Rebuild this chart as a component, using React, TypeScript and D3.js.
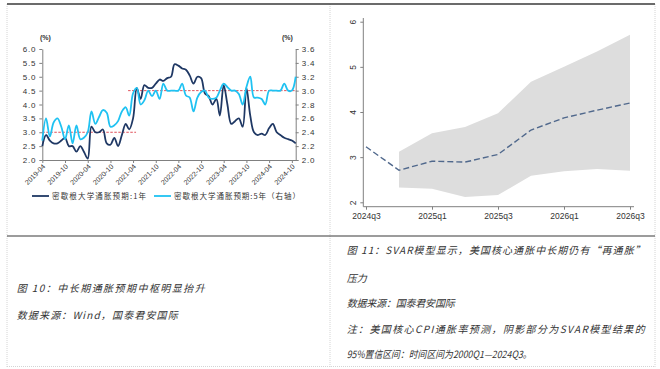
import * as d3 from "d3";
import React from "react";

// left panel: Michigan inflation expectations, monthly from 2019-04
const startMonth = new Date(2019, 3, 1);
const oneYear = [
  2.5, 2.9, 2.7, 2.6, 2.6, 2.7, 2.8, 2.5, 2.5, 2.3, 2.5, 2.3, 2.05, 3.2, 3.0, 3.0,
  3.1, 2.6, 2.55, 2.8, 2.5, 2.9, 3.3, 3.1, 3.5, 4.6, 4.2, 4.7, 4.6, 4.6, 4.75, 4.9,
  4.85, 4.95, 5.0, 5.45, 5.4, 5.3, 5.25, 5.05, 4.75, 5.0, 4.95, 4.4, 4.3, 4.0, 4.2,
  3.6, 4.7, 4.0, 3.3, 3.4, 3.5, 3.2, 4.6, 3.6, 3.0, 2.9, 2.95, 2.9, 3.15, 3.3, 3.0,
  2.9, 2.8, 2.75, 2.7, 2.6,
];
const fiveYear = [
  2.28, 2.6, 2.34, 2.54, 2.6, 2.48, 2.3, 2.5, 2.24, 2.5, 2.3, 2.32, 2.4, 2.7, 2.52,
  2.62, 2.72, 2.68, 2.48, 2.5, 2.56, 2.7, 2.76, 2.64, 2.96, 3.04, 2.8, 2.86, 3.0,
  2.92, 3.0, 2.88, 3.1, 3.0, 3.0, 3.0, 3.0, 3.1, 2.93, 2.9, 2.7, 2.9, 2.98, 3.0, 2.9,
  2.88, 2.9, 3.0, 3.1, 3.05, 3.0, 3.0, 2.95, 2.8, 3.05, 3.2, 2.9, 2.9, 2.88, 2.8, 3.0,
  3.0, 3.0, 3.0, 3.1, 3.0, 3.0, 3.2,
];
const monthTicks = [
  "2019-04", "2019-10", "2020-04", "2020-10", "2021-04", "2021-10",
  "2022-04", "2022-10", "2023-04", "2023-10", "2024-04", "2024-10",
];
const leftTicks = [2.0, 2.5, 3.0, 3.5, 4.0, 4.5, 5.0, 5.5, 6.0];
const rightTicks = [2.0, 2.2, 2.4, 2.6, 2.8, 3.0, 3.2, 3.4, 3.6];
const meanPreDates = ["2019-04-01", "2021-04-25"];
const meanPreValue = 3.0; // left axis
const meanPostDates = ["2021-02-20", "2024-11-01"];
const meanPostValue = 3.0; // right axis
const legendNames = ["密歇根大学通胀预期:1年", "密歇根大学通胀预期:5年（右轴）"];

// right panel: SVAR forecast of US core CPI
const quarters = ["2024q3", "2024q4", "2025q1", "2025q2", "2025q3", "2025q4", "2026q1", "2026q2", "2026q3"];
const quarterTicks = ["2024q3", "2025q1", "2025q3", "2026q1", "2026q3"];
const svarMean = [3.23, 2.71, 2.91, 2.89, 3.06, 3.6, 3.87, 4.04, 4.2];
const svarUpper = [null, 3.12, 3.53, 3.67, 3.97, 4.67, 5.0, 5.34, 5.71];
const svarLower = [null, 2.33, 2.3, 2.12, 2.16, 2.59, 2.69, 2.74, 2.7];
const svarTicks = [2, 3, 4, 5, 6];

const captionLeft = ["图 10：中长期通胀预期中枢明显抬升", "数据来源：Wind，国泰君安国际"];
const captionRight = [
  "图 11：SVAR模型显示，美国核心通胀中长期仍有“再通胀”",
  "压力",
  "数据来源：国泰君安国际",
  "注：美国核心CPI通胀率预测，阴影部分为SVAR模型结果的",
  "95%置信区间：时间区间为2000Q1—2024Q3。",
];

export default function App() {
  const width = 660;
  const height = 369;
  const svgRef = React.useRef<SVGSVGElement | null>(null);

  React.useEffect(() => {
    const svg = d3.select(svgRef.current);
    svg.selectAll("*").remove();
    const cjk = "'Noto Sans CJK SC', sans-serif";
    const sans = "'Liberation Sans', Arial, sans-serif";

    // frame
    const frame = svg.append("g");
    [7, 330, 655].forEach((x) =>
      frame.append("line").attr("x1", x).attr("x2", x).attr("y1", 4).attr("y2", 367)
        .attr("stroke", "#d4d4d4").attr("stroke-width", 1).attr("stroke-dasharray", "1,1"));
    frame.append("line").attr("x1", 7).attr("x2", 655).attr("y1", 366.5).attr("y2", 366.5)
      .attr("stroke", "#d4d4d4").attr("stroke-dasharray", "1,1");
    frame.append("line").attr("x1", 7).attr("x2", 655).attr("y1", 4).attr("y2", 4)
      .attr("stroke", "#3a3a3a").attr("stroke-width", 1.5);
    frame.append("line").attr("x1", 7).attr("x2", 655).attr("y1", 236).attr("y2", 236)
      .attr("stroke", "#3a3a3a").attr("stroke-width", 1.2);

    // ---------- left chart ----------
    const parseMonth = d3.timeParse("%Y-%m");
    const parseDay = d3.timeParse("%Y-%m-%d");
    const dates = oneYear.map((_, i) => d3.timeMonth.offset(startMonth, i));
    const x = d3.scaleTime().domain([startMonth, dates[dates.length - 1]]).range([42.3, 295.7]);
    const yL = d3.scaleLinear().domain([2, 6]).range([160, 49]);
    const yR = d3.scaleLinear().domain([2, 3.6]).range([160, 49]);

    const styleAxis = (g: any, size: number) => {
      g.select(".domain").attr("stroke", "#808080");
      g.selectAll(".tick line").attr("stroke", "#808080");
      g.selectAll(".tick text").attr("fill", "#333").attr("font-family", sans).attr("font-size", size);
    };

    svg.append("g")
      .attr("transform", "translate(42.3,0)")
      .call(d3.axisLeft(yL).tickValues(leftTicks).tickSize(3).tickSizeOuter(0).tickFormat(d3.format(".1f")))
      .call((g: any) => styleAxis(g, 8))
      .call((g: any) => g.selectAll(".tick text").attr("letter-spacing", 0.8));

    svg.append("g")
      .attr("transform", "translate(295.7,0)")
      .call(d3.axisRight(yR).tickValues(rightTicks).tickSize(3).tickSizeOuter(0).tickFormat(d3.format(".1f")))
      .call((g: any) => styleAxis(g, 8))
      .call((g: any) => g.selectAll(".tick text").attr("letter-spacing", 0.8));

    svg.append("g")
      .attr("transform", "translate(0,160)")
      .call(d3.axisBottom(x).tickValues(monthTicks.map((m) => parseMonth(m) as Date)).tickSize(3)
        .tickSizeOuter(0).tickFormat(d3.timeFormat("%Y-%m") as any))
      .call((g: any) => styleAxis(g, 7))
      .call((g: any) => g.selectAll(".tick text")
        .attr("x", 0).attr("y", 0).attr("dy", 0)
        .attr("text-anchor", "end")
        .attr("transform", "translate(3,7) rotate(-45)"));

    ["(%)", "(%)"].forEach((t, i) =>
      svg.append("text").attr("x", i === 0 ? 40 : 282).attr("y", 40)
        .attr("font-family", sans).attr("font-size", 7).attr("font-weight", "bold")
        .attr("fill", "#333").text(t));

    // average reference lines
    svg.append("line")
      .attr("x1", x(parseDay(meanPreDates[0]) as Date)).attr("x2", x(parseDay(meanPreDates[1]) as Date))
      .attr("y1", yL(meanPreValue)).attr("y2", yL(meanPreValue))
      .attr("stroke", "#e0505a").attr("stroke-width", 1).attr("stroke-dasharray", "2.5,1.5");
    svg.append("line")
      .attr("x1", x(parseDay(meanPostDates[0]) as Date)).attr("x2", x(parseDay(meanPostDates[1]) as Date))
      .attr("y1", yR(meanPostValue)).attr("y2", yR(meanPostValue))
      .attr("stroke", "#e0505a").attr("stroke-width", 1).attr("stroke-dasharray", "2.5,1.5");

    const lineL = d3.line<number>().x((_, i) => x(dates[i])).y((d) => yL(d)).curve(d3.curveCatmullRom.alpha(0.5));
    const lineR = d3.line<number>().x((_, i) => x(dates[i])).y((d) => yR(d)).curve(d3.curveCatmullRom.alpha(0.5));

    svg.append("path").attr("d", lineL(oneYear) ?? "")
      .attr("fill", "none").attr("stroke", "#1f3864").attr("stroke-width", 1.8);
    svg.append("path").attr("d", lineR(fiveYear) ?? "")
      .attr("fill", "none").attr("stroke", "#1fc2f2").attr("stroke-width", 1.8);

    // legend
    const legendColors = ["#1f3864", "#1fc2f2"];
    const legendX = [32, 154];
    const legendW = [94, 126];
    legendNames.forEach((name, i) => {
      svg.append("line").attr("x1", legendX[i]).attr("x2", legendX[i] + 17).attr("y1", 196).attr("y2", 196)
        .attr("stroke", legendColors[i]).attr("stroke-width", 1.8);
      svg.append("text").attr("x", legendX[i] + 20).attr("y", 199)
        .attr("font-family", cjk).attr("font-size", 7.5).attr("fill", "#333")
        .attr("textLength", legendW[i]).attr("lengthAdjust", "spacing").text(name);
    });

    // ---------- right chart ----------
    const xq = d3.scalePoint<string>().domain(quarters).range([366, 630]);
    const yq = d3.scaleLinear().domain([2, 6]).range([202.3, 21.7]);

    const bandIdx = quarters.map((_, i) => i).filter((i) => svarUpper[i] != null);
    const area = d3.area<number>()
      .x((i) => xq(quarters[i]) as number)
      .y0((i) => yq(svarLower[i] as number))
      .y1((i) => yq(svarUpper[i] as number));
    svg.append("path").attr("d", area(bandIdx) ?? "").attr("fill", "#dddddd");

    const meanLine = d3.line<number>().x((_, i) => xq(quarters[i]) as number).y((d) => yq(d));
    svg.append("path").attr("d", meanLine(svarMean) ?? "")
      .attr("fill", "none").attr("stroke", "#50688c").attr("stroke-width", 1.4)
      .attr("stroke-dasharray", "6,3");

    svg.append("g")
      .attr("transform", "translate(363.3,0)")
      .call(d3.axisLeft(yq).tickValues(svarTicks).tickSize(3).tickFormat(d3.format("d")))
      .call((g: any) => g.select(".domain").remove())
      .call((g: any) => styleAxis(g, 8.5))
      .call((g: any) => g.selectAll(".tick text")
        .attr("x", 0).attr("y", 0).attr("dy", 0)
        .attr("text-anchor", "middle")
        .attr("transform", "translate(-7,0) rotate(-90)"));

    svg.append("g")
      .attr("transform", "translate(0,206.7)")
      .call(d3.axisBottom(xq).tickValues(quarterTicks).tickSize(3))
      .call((g: any) => g.select(".domain").remove())
      .call((g: any) => styleAxis(g, 8.5));

    svg.append("line").attr("x1", 363.3).attr("x2", 363.3).attr("y1", 18).attr("y2", 206.7)
      .attr("stroke", "#808080");
    svg.append("line").attr("x1", 363.3).attr("x2", 634).attr("y1", 206.7).attr("y2", 206.7)
      .attr("stroke", "#808080");

    // ---------- captions ----------
    const leftY = [292, 319];
    const leftW = [188, 161];
    captionLeft.forEach((t, i) =>
      svg.append("text").attr("x", 16.7).attr("y", leftY[i])
        .attr("font-family", cjk).attr("font-size", 10).attr("font-style", "italic")
        .attr("fill", "#333").attr("textLength", leftW[i]).attr("lengthAdjust", "spacing").text(t));

    const rightY = [254, 282, 307, 333, 357.5];
    const rightW = [298, 0, 108, 298, 185];
    captionRight.forEach((t, i) => {
      const el = svg.append("text").attr("x", 346.7).attr("y", rightY[i])
        .attr("font-family", cjk).attr("font-size", 10).attr("font-style", "italic")
        .attr("fill", "#333").text(t);
      if (rightW[i] > 0) {
        el.attr("textLength", rightW[i]).attr("lengthAdjust", i === 4 ? "spacingAndGlyphs" : "spacing");
      }
    });
  }, []);

  return (
    <svg
      ref={svgRef}
      width={width}
      height={height}
      viewBox={`0 0 ${width} ${height}`}
      style={{ position: "absolute", left: 0, top: 0, background: "#fff" }}
    ></svg>
  );
}
